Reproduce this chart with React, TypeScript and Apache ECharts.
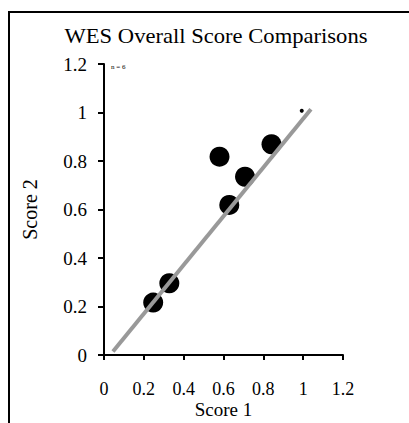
import React, { useEffect, useRef } from "react";
import * as echarts from "echarts";

const score1 = [0.247, 0.328, 0.58, 0.629, 0.708, 0.841];
const score2 = [0.216, 0.296, 0.818, 0.619, 0.735, 0.869];
const markerPoint = [[0.993, 1.007]];
const fitLine = [
  [0.045, 0.014],
  [1.039, 1.013],
];
const titleText = "WES Overall Score Comparisons";
const xName = "Score 1";
const yName = "Score 2";
const noteText = "n = 6";

const FONT = "Liberation Serif";

export default function App() {
  const ref = useRef<HTMLDivElement>(null);
  useEffect(() => {
    if (!ref.current) return;
    const chart = echarts.init(ref.current, null, { renderer: "svg" });
    const points = score1.map((x, i) => [x, score2[i]]);
    chart.setOption({
      animation: false,
      backgroundColor: "#ffffff",
      textStyle: { fontFamily: FONT, color: "#000" },
      grid: {
        left: 104,
        top: 64,
        width: 239,
        height: 291,
        containLabel: false,
        outerBoundsMode: "none",
      },
      xAxis: {
        type: "value",
        min: 0,
        max: 1.2,
        interval: 0.2,
        name: xName,
        nameLocation: "middle",
        nameGap: 45,
        nameMoveOverlap: false,
        nameTextStyle: { fontFamily: FONT, fontSize: 19, lineHeight: 19, color: "#000" },
        splitLine: { show: false },
        axisLine: { show: true, onZero: false, lineStyle: { color: "#000", width: 2 } },
        axisTick: { show: true, length: 5, inside: false, lineStyle: { color: "#000", width: 2 } },
        axisLabel: { fontFamily: FONT, fontSize: 18, lineHeight: 18, color: "#000", margin: 25 },
      },
      yAxis: {
        type: "value",
        min: 0,
        max: 1.2,
        interval: 0.2,
        name: yName,
        nameLocation: "middle",
        nameGap: 64,
        nameMoveOverlap: false,
        nameRotate: 90,
        nameTextStyle: { fontFamily: FONT, fontSize: 20, color: "#000" },
        splitLine: { show: false },
        axisLine: { show: true, onZero: false, lineStyle: { color: "#000", width: 2 } },
        axisTick: { show: true, length: 6, inside: false, lineStyle: { color: "#000", width: 2 } },
        axisLabel: { fontFamily: FONT, fontSize: 19, color: "#000", margin: 17 },
      },
      series: [
        {
          type: "scatter",
          data: points,
          symbol: "circle",
          symbolSize: 20,
          itemStyle: { color: "#000", opacity: 1 },
          z: 2,
        },
        {
          type: "scatter",
          data: markerPoint,
          symbol: "circle",
          symbolSize: 4,
          itemStyle: { color: "#000", opacity: 1 },
          z: 2,
        },
        {
          type: "line",
          data: fitLine,
          showSymbol: false,
          symbol: "none",
          lineStyle: { color: "#999999", width: 4 },
          z: 3,
        },
      ],
      graphic: [
        {
          type: "line",
          shape: { x1: 8, y1: 12, x2: 409, y2: 12 },
          style: { stroke: "#000", lineWidth: 2 },
        },
        {
          type: "line",
          shape: { x1: 9, y1: 11, x2: 9, y2: 423 },
          style: { stroke: "#000", lineWidth: 2 },
        },
        {
          type: "text",
          x: 216,
          y: 36,
          scaleX: 1.13,
          style: {
            text: titleText,
            fontFamily: FONT,
            fontSize: 20,
            fill: "#000",
            align: "center",
            verticalAlign: "middle",
          },
        },
        {
          type: "text",
          x: 111,
          y: 67,
          style: {
            text: noteText,
            fontFamily: FONT,
            fontSize: 7,
            fill: "#000",
            align: "left",
            verticalAlign: "middle",
          },
        },
      ],
    });
    return () => chart.dispose();
  }, []);
  return (
    <div
      ref={ref}
      style={{ position: "fixed", left: 0, top: 0, width: 409, height: 423 }}
    />
  );
}
